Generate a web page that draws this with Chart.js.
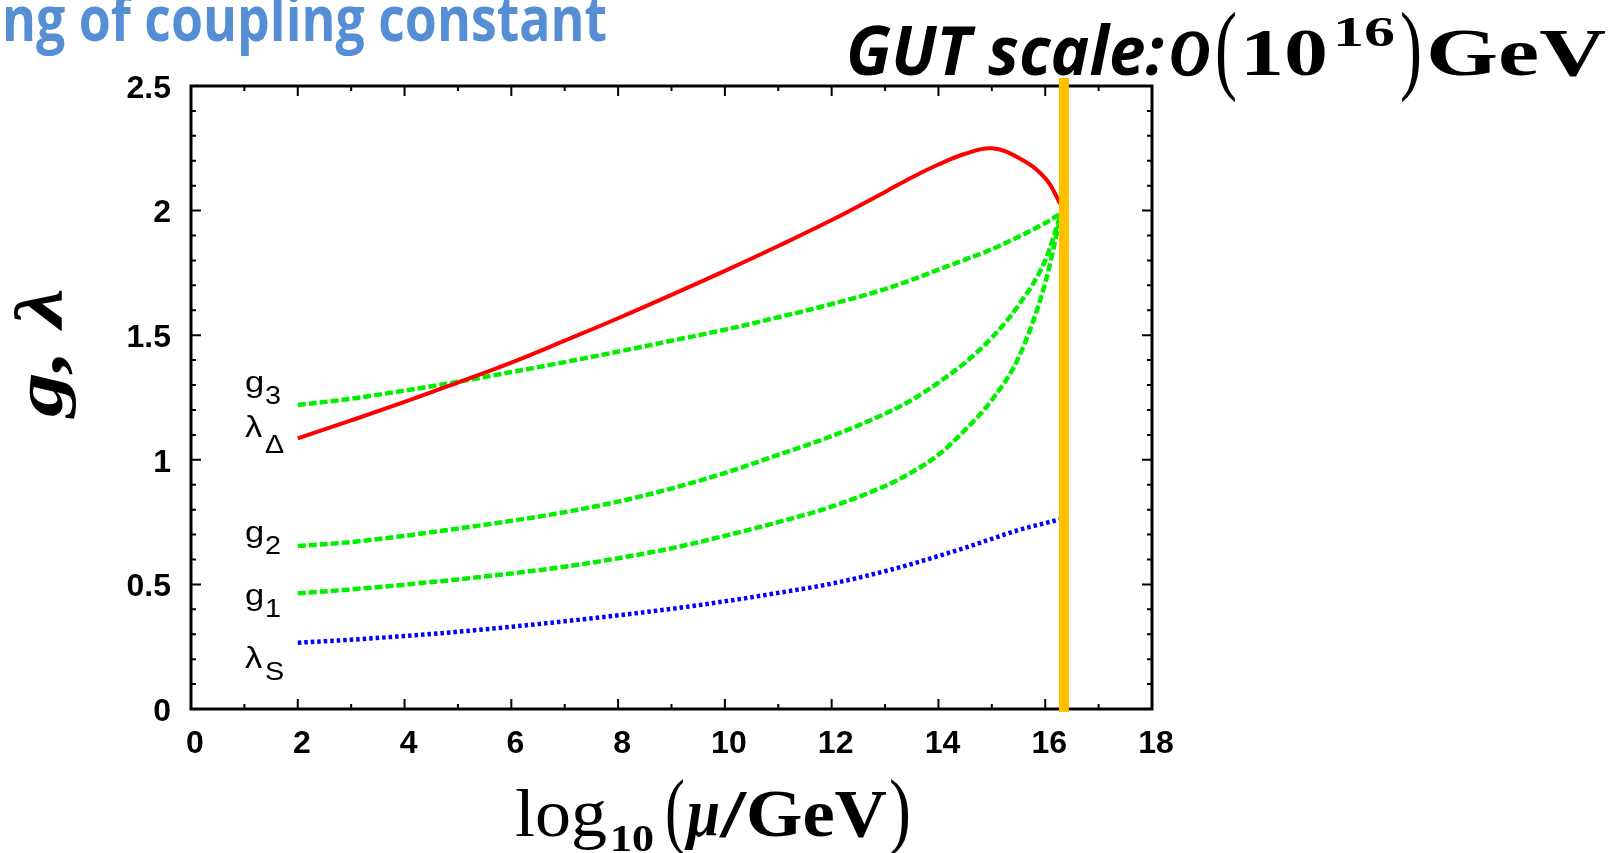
<!DOCTYPE html>
<html>
<head>
<meta charset="utf-8">
<script src="https://cdn.jsdelivr.net/npm/chart.js@4.4.0/dist/chart.umd.min.js"></script>
<style>
  html, body { margin: 0; padding: 0; background: #fff; }
  #wrap { width: 1614px; height: 853px; position: relative; }
</style>
</head>
<body>
<div id="wrap"><canvas id="runChart"></canvas></div>
<script>
// log10(mu/GeV) sample points
const muLog = [2, 3, 4, 5, 6, 7, 8, 9, 10, 11, 12, 13, 13.5, 14, 14.5, 15, 15.5, 16, 16.3];

// couplings
const lambdaDelta = [1.086, 1.158, 1.232, 1.31, 1.39, 1.478, 1.568, 1.662, 1.758, 1.858, 1.962, 2.075, 2.133, 2.185, 2.228, 2.25, 2.212, 2.13, 2.02];
const g3 = [1.22, 1.245, 1.278, 1.313, 1.352, 1.392, 1.434, 1.478, 1.522, 1.572, 1.625, 1.685, 1.722, 1.763, 1.803, 1.845, 1.895, 1.95, 1.99];
const g2 = [0.654, 0.67, 0.695, 0.724, 0.755, 0.79, 0.832, 0.885, 0.947, 1.02, 1.095, 1.185, 1.24, 1.31, 1.39, 1.49, 1.62, 1.8, 1.99];
const g1 = [0.464, 0.48, 0.499, 0.52, 0.544, 0.571, 0.605, 0.645, 0.695, 0.75, 0.812, 0.895, 0.95, 1.02, 1.12, 1.24, 1.41, 1.71, 1.99];
const lambdaS = [0.266, 0.278, 0.293, 0.31, 0.33, 0.352, 0.376, 0.402, 0.432, 0.466, 0.503, 0.553, 0.582, 0.614, 0.647, 0.683, 0.718, 0.746, 0.762];

// GUT scale marker
const gutScale = 16.35;
const gutSpan = [-0.012, 2.532];

const xTickLabels = ['0', '2', '4', '6', '8', '10', '12', '14', '16', '18'];
const yTickLabels = ['0', '0.5', '1', '1.5', '2', '2.5'];

function pts(ys) {
    return muLog.map((m, i) => ({ x: m, y: ys[i] }));
}

// draw a text squeezed/stretched to a given width
function fitText(ctx, text, x, y, font, w, bold) {
    ctx.font = font;
    const m = ctx.measureText(text).width;
    ctx.save();
    ctx.translate(x, y);
    ctx.scale(w / m, 1);
    ctx.fillText(text, 0, 0);
    if (bold) {
        ctx.lineWidth = bold;
        ctx.strokeStyle = ctx.fillStyle;
        ctx.strokeText(text, 0, 0);
    }
    ctx.restore();
}

// same but with a plain horizontal stretch factor
function wideText(ctx, text, x, y, font, k) {
    ctx.font = font;
    ctx.save();
    ctx.translate(x, y);
    ctx.scale(k, 1);
    ctx.fillText(text, 0, 0);
    ctx.restore();
}

const frame = {
    id: 'frame',
    beforeDatasetsDraw(chart) {
        const { ctx, chartArea: a, scales: { x, y } } = chart;
        ctx.save();
        ctx.strokeStyle = '#000';
        ctx.lineWidth = 2;
        // inward ticks on all four sides
        for (let v = 0; v <= 18; v++) {
            const px = x.getPixelForValue(v);
            const len = v % 2 === 0 ? 10 : 5;
            ctx.beginPath();
            ctx.moveTo(px, a.bottom); ctx.lineTo(px, a.bottom - len);
            ctx.moveTo(px, a.top); ctx.lineTo(px, a.top + len);
            ctx.stroke();
        }
        for (let k = 0; k <= 25; k++) {
            const py = y.getPixelForValue(k / 10);
            const len = k % 5 === 0 ? 10 : 5;
            ctx.beginPath();
            ctx.moveTo(a.left, py); ctx.lineTo(a.left + len, py);
            ctx.moveTo(a.right, py); ctx.lineTo(a.right - len, py);
            ctx.stroke();
        }
        ctx.lineWidth = 3;
        ctx.strokeRect(a.left, a.top, a.right - a.left, a.bottom - a.top);
        ctx.restore();
    },
    afterDraw(chart) {
        const ctx = chart.ctx;
        ctx.save();
        ctx.textBaseline = 'alphabetic';
        ctx.textAlign = 'left';

        // slide title (cut at the left)
        ctx.fillStyle = '#558ED5';
        fitText(ctx, 'ng of coupling constant', 2, 41, 'bold 63px "Open Sans"', 605);

        // GUT scale note
        ctx.fillStyle = '#000';
        fitText(ctx, 'GUT scale:', 846, 75, 'italic bold 68px "Open Sans"', 318);
        fitText(ctx, 'O', 1170, 75, 'italic bold 66px "Liberation Serif"', 40, 1.5);
        fitText(ctx, '(', 1215, 81, '100px "Liberation Serif"', 22);
        fitText(ctx, '10', 1240, 75, 'bold 68px "Liberation Serif"', 88);
        fitText(ctx, '16', 1333, 46, 'bold 42px "Liberation Serif"', 62);
        fitText(ctx, ')', 1400, 81, '100px "Liberation Serif"', 22);
        fitText(ctx, 'GeV', 1426, 75, 'bold 68px "Liberation Serif"', 180);

        // x axis title
        fitText(ctx, 'log', 515, 836, '68px "Liberation Serif"', 92);
        fitText(ctx, '10', 610, 851, 'bold 38px "Liberation Serif"', 44);
        fitText(ctx, '(', 665, 838, '84px "Liberation Serif"', 20);
        fitText(ctx, 'μ', 687, 836, 'italic bold 68px "Liberation Serif"', 33);
        fitText(ctx, '/', 720, 836, 'bold 68px "Liberation Serif"', 26);
        fitText(ctx, 'GeV', 746, 836, 'bold 68px "Liberation Serif"', 141);
        fitText(ctx, ')', 889, 838, '84px "Liberation Serif"', 22);

        // y axis title
        ctx.save();
        ctx.translate(62, 417);
        ctx.rotate(-Math.PI / 2);
        fitText(ctx, 'g, λ', 0, 0, 'italic bold 68px "Liberation Serif"', 129);
        ctx.restore();

        // curve names
        const main = '30px "Liberation Sans"';
        const sub = '25px "Liberation Sans"';
        const names = [
            ['g', '3', 392, 404],
            ['λ', 'Δ', 437, 453],
            ['g', '2', 542, 554],
            ['g', '1', 605, 617],
            ['λ', 'S', 668, 680]
        ];
        names.forEach(n => {
            wideText(ctx, n[0], 245, n[2], main, 1.15);
            wideText(ctx, n[1], 265, n[3], sub, 1.15);
        });
        ctx.restore();
    }
};

const tickFont = { family: '"Liberation Sans"', size: 32, weight: 'bold' };

function curve(label, ys, color, dash, mode) {
    return {
        label: label,
        data: pts(ys),
        borderColor: color,
        borderWidth: dash ? 4.5 : 4,
        borderDash: dash || [],
        pointRadius: 0,
        tension: 0.4,
        cubicInterpolationMode: mode
    };
}

new Chart(document.getElementById('runChart'), {
    type: 'line',
    data: {
        datasets: [
            {
                label: 'GUT',
                data: [{ x: gutScale, y: gutSpan[0] }, { x: gutScale, y: gutSpan[1] }],
                borderColor: '#FFC000',
                borderWidth: 10,
                borderCapStyle: 'butt',
                clip: false,
                pointRadius: 0
            },
            curve('lambdaDelta', lambdaDelta, '#FF0000', null, 'default'),
            curve('g3', g3, '#00F000', [8, 3], 'monotone'),
            curve('g2', g2, '#00F000', [8, 3], 'monotone'),
            curve('g1', g1, '#00F000', [8, 3], 'monotone'),
            curve('lambdaS', lambdaS, '#0000FF', [3.5, 3], 'monotone')
        ]
    },
    options: {
        responsive: true,
        maintainAspectRatio: false,
        animation: false,
        layout: { padding: { top: 86, right: 462, bottom: 0, left: 0 } },
        plugins: {
            legend: { display: false },
            tooltip: { enabled: false }
        },
        scales: {
            x: {
                type: 'linear',
                min: 0,
                max: 18,
                grid: { display: false, drawTicks: false },
                border: { display: false },
                afterFit: s => { s.height = 144; },
                ticks: {
                    stepSize: 2,
                    padding: 16,
                    labelOffset: 4,
                    autoSkip: false,
                    maxRotation: 0,
                    color: '#000',
                    font: tickFont,
                    callback: (v, i) => xTickLabels[i]
                }
            },
            y: {
                min: 0,
                max: 2.5,
                grid: { display: false, drawTicks: false },
                border: { display: false },
                afterFit: s => { s.width = 191; },
                ticks: {
                    stepSize: 0.5,
                    padding: 20,
                    labelOffset: 3,
                    color: '#000',
                    font: tickFont,
                    callback: (v, i) => yTickLabels[i]
                }
            }
        }
    },
    plugins: [frame]
});
</script>
</body>
</html>
